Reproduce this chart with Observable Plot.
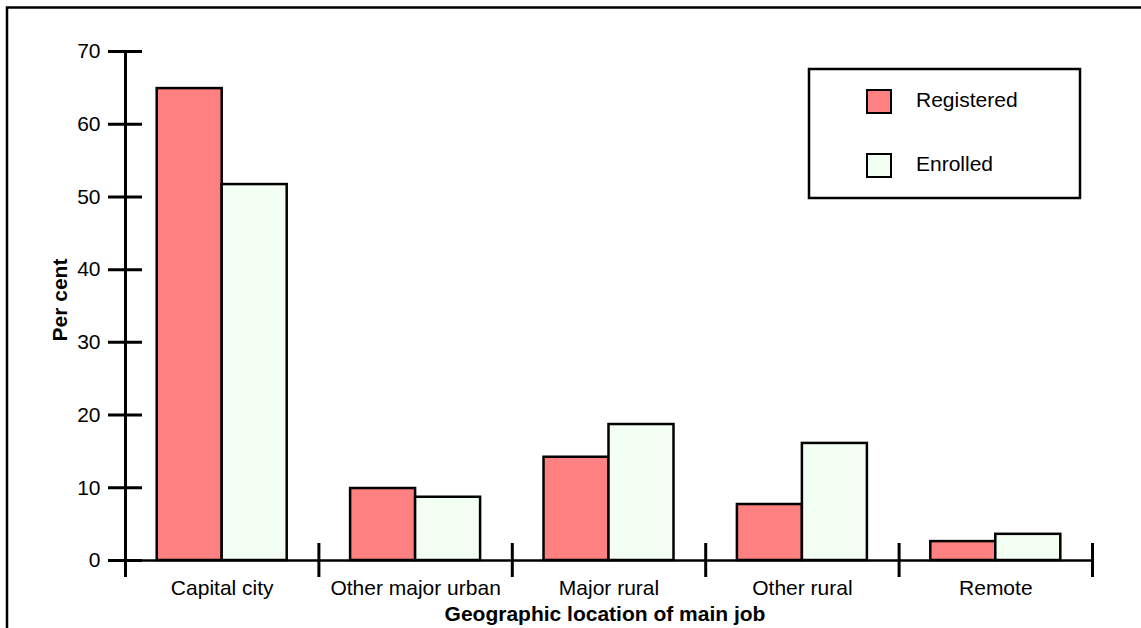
<!DOCTYPE html>
<html><head><meta charset="utf-8">
<script src="https://cdn.jsdelivr.net/npm/d3@7"></script>
<script src="https://cdn.jsdelivr.net/npm/@observablehq/plot@0.6"></script>
<style>html,body{margin:0;padding:0;background:#fff;} #chart{width:1141px;height:628px;overflow:hidden;}</style>
</head><body><div id="chart"></div>
<script>
const categories = ["Capital city", "Other major urban", "Major rural", "Other rural", "Remote"];
const registered = [64.9, 9.9, 14.2, 7.7, 2.6];
const enrolled = [51.7, 8.7, 18.7, 16.1, 3.6];
const series = ["Registered", "Enrolled"];
const yTicks = [0, 10, 20, 30, 40, 50, 60, 70];
const xTitle = "Geographic location of main job";
const yTitle = "Per cent";

const W = 1141, H = 628, mL = 125, mR = 49, mT = 51, mB = 68;
const bw = (W - mL - mR) / categories.length;
const barW = 65;
const outer = (bw - 2 * barW) / 2;
const colors = ["#FF8080", "#F2FFF2"];
const rows = categories.map((c, i) => ({category: c, registered: registered[i], enrolled: enrolled[i]}));
const last = categories[categories.length - 1];
const ink = "#000";

const svg = Plot.plot({
  width: W, height: H,
  marginLeft: mL, marginRight: mR, marginTop: mT, marginBottom: mB,
  style: {fontFamily: "'Liberation Sans', Arial, sans-serif", fontSize: "21px", color: ink, background: "#fff"},
  x: {type: "band", domain: categories, paddingInner: 0, paddingOuter: 0, round: false, label: null},
  y: {domain: [0, 70], label: null},
  marks: [
    Plot.barY(rows, {x: "category", y: "registered", fill: colors[0], stroke: ink, strokeWidth: 2.5,
      insetLeft: outer, insetRight: bw - outer - barW}),
    Plot.barY(rows, {x: "category", y: "enrolled", fill: colors[1], stroke: ink, strokeWidth: 2.5,
      insetLeft: outer + barW, insetRight: outer}),
    Plot.ruleY([0], {stroke: ink, strokeWidth: 2.5}),
    Plot.ruleX([categories[0]], {x: d => d, dx: -bw / 2, insetBottom: -17, stroke: ink, strokeWidth: 3}),
    Plot.ruleX(categories.slice(1), {x: d => d, dx: -bw / 2, insetTop: H - mT - mB - 17, insetBottom: -17, stroke: ink, strokeWidth: 3}),
    Plot.ruleX([last], {x: d => d, dx: bw / 2, insetTop: H - mT - mB - 17, insetBottom: -17, stroke: ink, strokeWidth: 3}),
    Plot.axisY({ticks: yTicks, tickSize: 34, dx: 17, tickPadding: 8, strokeWidth: 3, label: null}),
    Plot.axisX({tickSize: 0, tickPadding: 20, label: null}),
    Plot.text([yTitle], {text: d => d, frameAnchor: "left", textAnchor: "middle", dx: -65, dy: -6, rotate: -90, fontWeight: "bold"}),
    Plot.text([xTitle], {text: d => d, frameAnchor: "bottom", textAnchor: "middle", dy: 60, dx: -4, lineAnchor: "bottom", fontWeight: "bold"})
  ]
});

const s = d3.select(svg);
// outer border (top and left)
s.append("path").attr("d", `M7,${H} V7.5 H${W}`).attr("fill", "none").attr("stroke", ink).attr("stroke-width", 2.5);
// legend
const lg = s.append("g").attr("text-anchor", "start");
lg.append("rect").attr("x", 809).attr("y", 69).attr("width", 271).attr("height", 129)
  .attr("fill", "#fff").attr("stroke", ink).attr("stroke-width", 2.5);
series.forEach((name, i) => {
  const y0 = 90 + i * 64;
  lg.append("rect").attr("x", 867).attr("y", y0).attr("width", 24).attr("height", 23)
    .attr("fill", colors[i]).attr("stroke", ink).attr("stroke-width", 2);
  lg.append("text").attr("x", 916).attr("y", y0 + 16.5).attr("fill", ink)
    .attr("text-anchor", "start").attr("font-size", 21).text(name);
});

document.getElementById("chart").appendChild(svg);
</script>
</body></html>
